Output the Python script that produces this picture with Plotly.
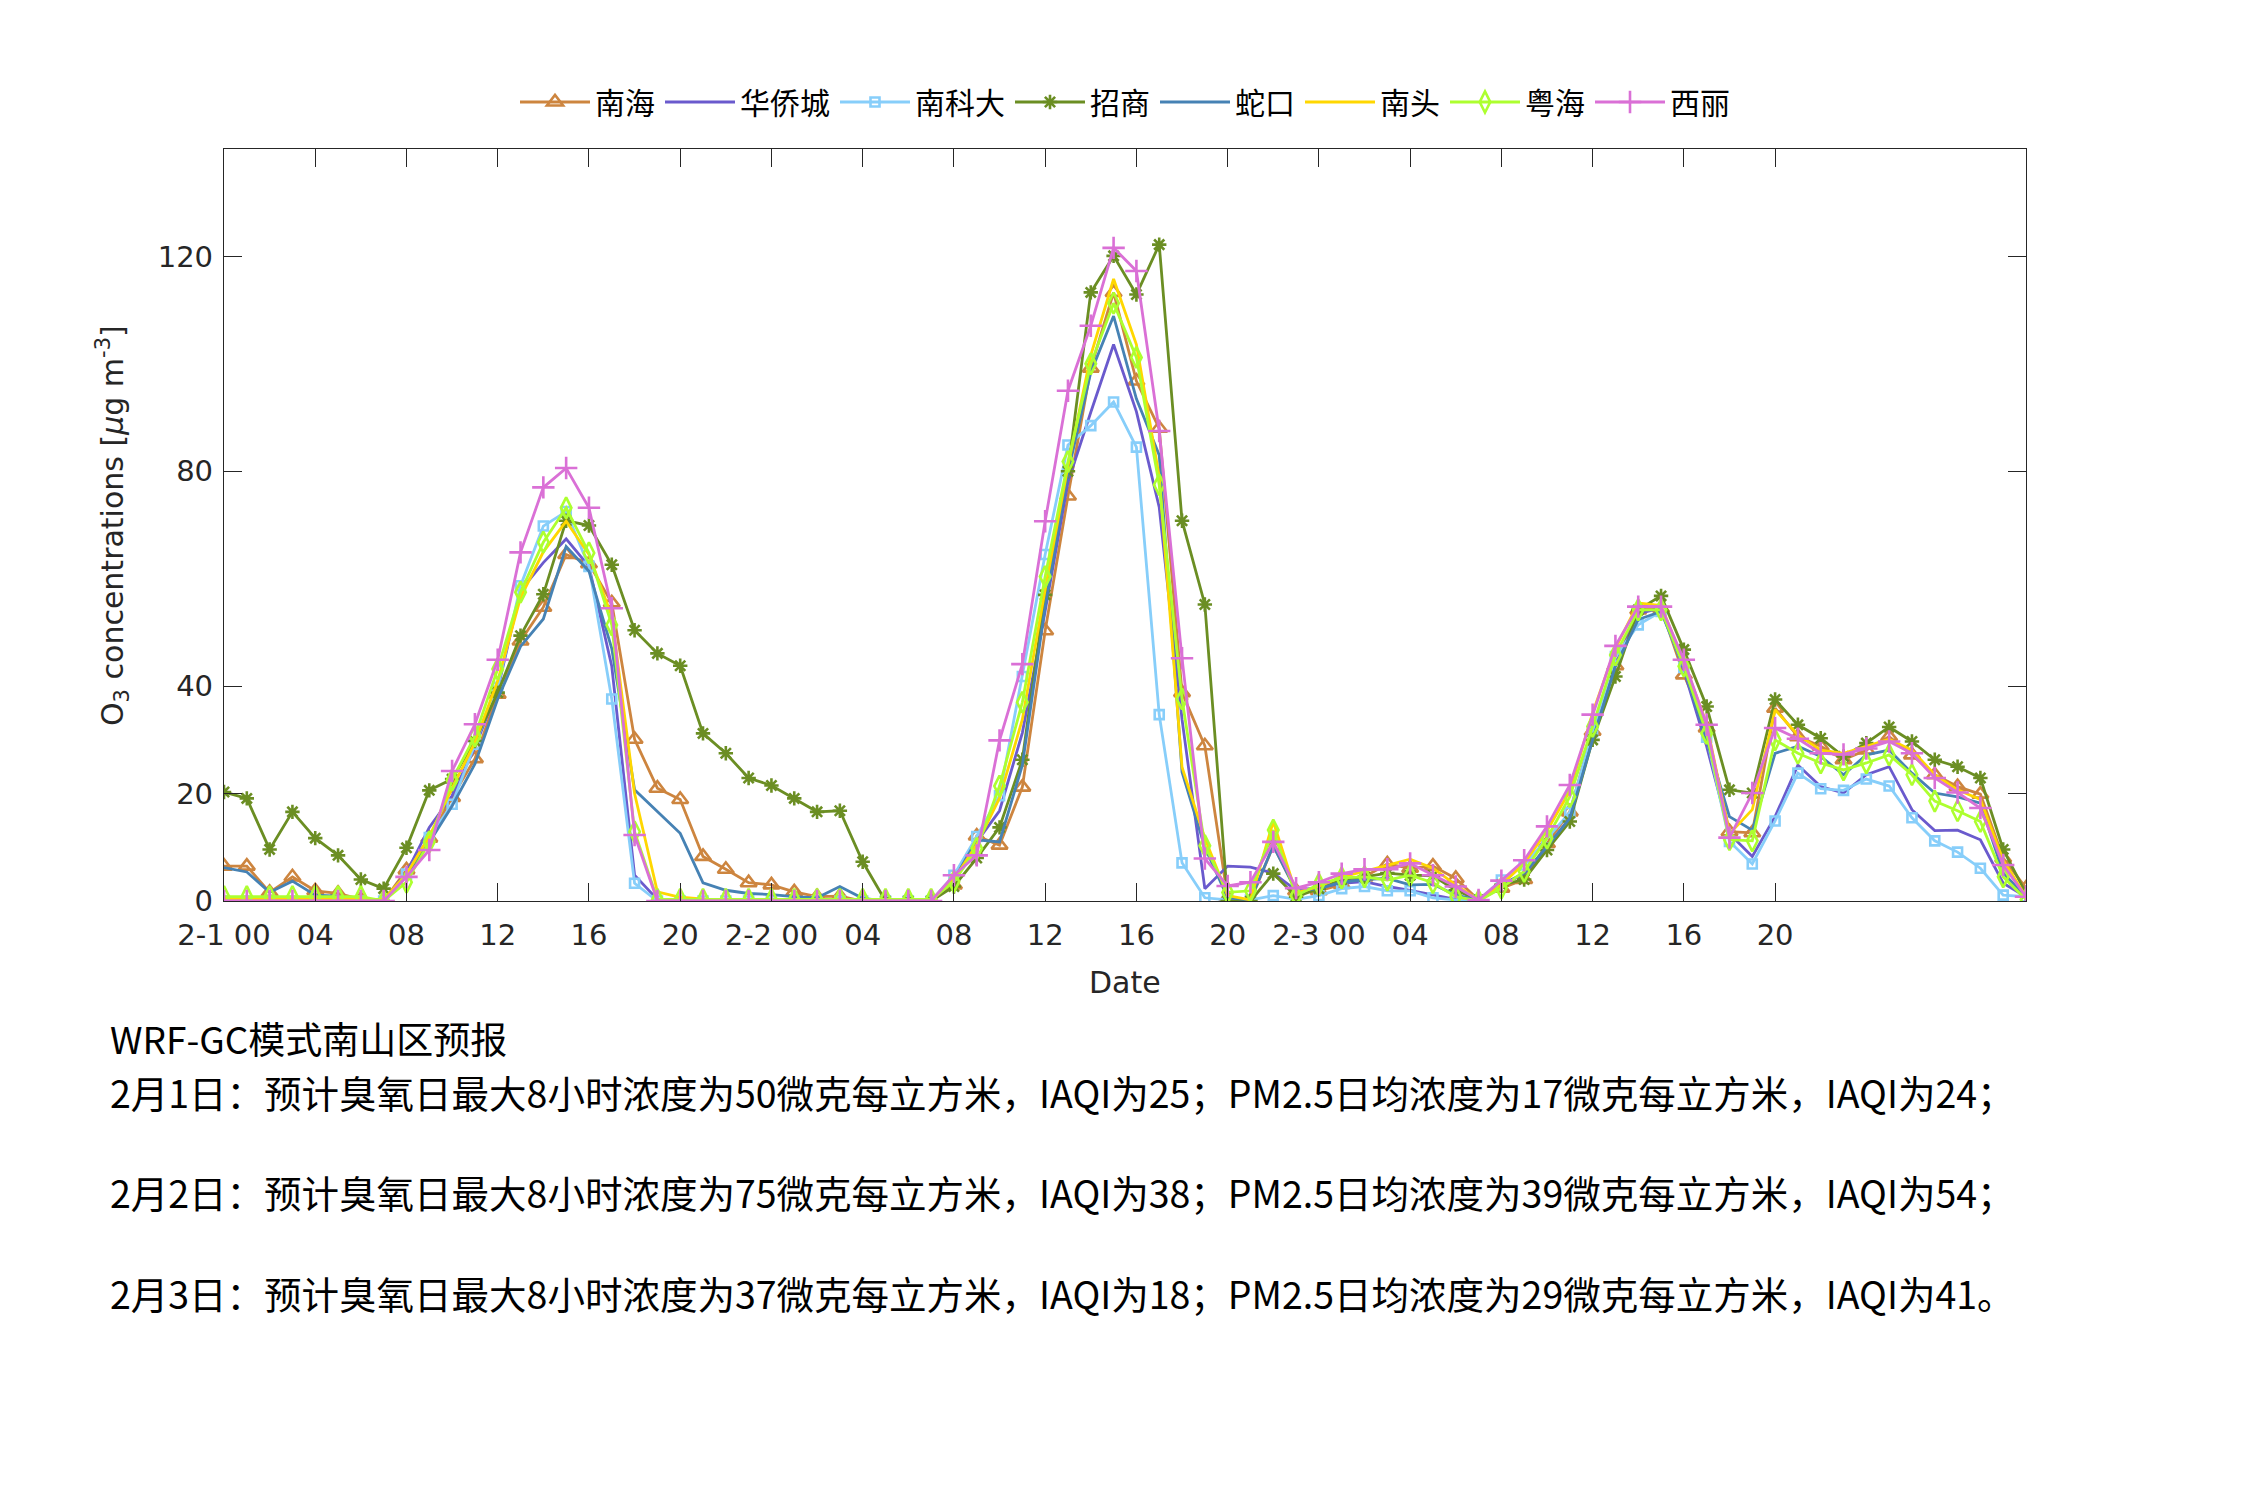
import plotly.graph_objects as go

# hourly index from 2-1 00 to 2-4 07
hours = list(range(80))

tick_hours = [0, 4, 8, 12, 16, 20, 24, 28, 32, 36, 40, 44, 48, 52, 56, 60, 64, 68]
tick_labels = ["2-1 00", "04", "08", "12", "16", "20",
               "2-2 00", "04", "08", "12", "16", "20",
               "2-3 00", "04", "08", "12", "16", "20"]

nanhai = [6.5, 6.5, 1.6, 4.5, 1.9, 1.4, 0.3, 0, 5.8, 11.7,
          19.3, 26.5, 38.5, 48.4, 54.7, 64.5, 62.8, 55.5, 30.1, 21.0,
          18.9, 8.3, 5.9, 3.4, 3.0, 1.7, 0.8, 0.9, 0, 0,
          0, 0, 3.0, 12.1, 10.4, 21.2, 50.3, 75.4, 99.2, 113.3,
          96.8, 88.0, 38.8, 28.9, 0.6, 0, 10.3, 1.9, 1.9, 3.1,
          4.5, 6.9, 6.1, 6.5, 4.2, 0.2, 2.4, 4.0, 10.7, 16.6,
          31.6, 43.8, 54.2, 54.5, 42.1, 32.2, 12.9, 12.7, 35.9, 30.6,
          28.8, 26.3, 28.1, 30.6, 27.2, 23.5, 21.3, 19.9, 8.0, 2.4]

huaqiaocheng = [0.5, 0.5, 0.6, 0.3, 0, 0, 0, 0, 5.3, 13.7,
                19.6, 28.6, 39.4, 57.8, 63.0, 67.4, 62.3, 43.7, 4.8, 0.3,
                0, 0, 0, 0, 0, 0, 0, 0, 0, 0,
                0, 0, 4.5, 11.0, 16.8, 31.3, 54.0, 78.0, 91.0, 103.6,
                91.1, 73.3, 33.8, 2.3, 6.5, 6.3, 5.2, 2.0, 2.5, 3.3,
                3.6, 2.7, 2.0, 1.1, 0.3, 0.2, 3.0, 5.0, 10.0, 15.5,
                31.0, 44.0, 53.5, 54.5, 43.0, 28.8, 12.5, 8.3, 15.7, 25.3,
                21.3, 20.1, 23.5, 25.0, 17.0, 13.1, 13.2, 11.4, 3.3, 0.8]

nankeda = [0, 0, 0, 0, 0, 0, 0, 0, 5.0, 11.8,
           18.0, 29.2, 39.8, 58.7, 69.8, 72.5, 62.3, 37.6, 3.3, 0,
           0, 0, 0, 0, 0, 0, 0, 0, 0, 0,
           0, 0, 4.8, 12.0, 19.6, 41.8, 64.5, 84.9, 88.5, 92.9,
           84.5, 34.7, 7.1, 0.6, 0.2, 0.2, 1.0, 0.3, 1.0, 2.3,
           2.7, 1.9, 1.9, 0.6, 0.2, 0.2, 3.9, 6.7, 11.5, 16.5,
           31.5, 45.5, 51.4, 53.9, 43.5, 30.5, 11.1, 6.9, 14.9, 23.8,
           20.9, 20.6, 22.7, 21.4, 15.5, 11.2, 9.1, 6.1, 1.1, 0.8]

zhaoshang = [20.3, 19.1, 9.6, 16.6, 11.7, 8.5, 4.0, 2.3, 9.9, 20.6,
             22.7, 29.8, 38.8, 49.4, 57.1, 70.8, 69.9, 62.6, 50.4, 46.1,
             43.8, 31.2, 27.5, 22.9, 21.5, 19.1, 16.6, 16.8, 7.3, 0,
             0, 0, 2.7, 8.0, 13.7, 26.3, 57.0, 80.0, 113.3, 120.1,
             112.9, 122.2, 70.8, 55.2, 0, 0, 5.1, 0.8, 2.3, 4.0,
             4.5, 5.2, 4.8, 4.7, 2.0, 0.2, 3.0, 4.0, 9.5, 14.8,
             30.0, 41.8, 54.2, 56.8, 46.8, 36.2, 20.7, 20.1, 37.5, 32.8,
             30.3, 26.9, 29.4, 32.4, 29.7, 26.3, 25.0, 22.9, 9.6, 1.4]

shekou = [6.2, 5.4, 1.6, 3.7, 1.1, 0.9, 0.2, 0, 4.7, 10.9,
          17.7, 25.5, 37.6, 47.4, 52.5, 66.0, 61.4, 47.0, 20.7, 16.6,
          12.6, 3.4, 2.0, 1.4, 1.2, 0.8, 0.6, 2.7, 0.5, 0,
          0, 0, 3.9, 11.4, 11.0, 25.3, 54.8, 79.8, 98.4, 108.9,
          93.5, 83.0, 24.0, 10.0, 0.6, 0.2, 10.3, 1.9, 2.3, 3.5,
          4.0, 4.2, 3.0, 3.1, 1.1, 0.2, 3.0, 5.2, 10.1, 15.4,
          30.0, 43.7, 52.4, 53.9, 43.5, 30.0, 15.7, 13.2, 27.5, 28.8,
          26.9, 23.5, 27.2, 28.1, 23.8, 20.1, 19.4, 18.2, 5.2, 0.8]

nantou = [0.3, 0.3, 0.3, 0.3, 0.3, 0.3, 0.3, 0.3, 5.0, 12.0,
          21.0, 29.5, 41.0, 56.5, 65.0, 70.7, 64.5, 53.0, 20.0, 1.7,
          0.7, 0.3, 0, 0, 0, 0, 0, 0, 0, 0,
          0, 0, 4.0, 10.5, 19.2, 33.8, 58.0, 81.0, 101.6, 115.8,
          103.6, 79.0, 24.9, 11.7, 1.0, 0.2, 14.8, 1.5, 2.7, 4.5,
          5.5, 6.7, 7.8, 6.1, 3.0, 0.2, 3.0, 7.0, 13.1, 20.5,
          35.0, 47.0, 55.5, 55.0, 44.5, 33.0, 12.5, 17.0, 35.6, 30.9,
          28.1, 27.5, 28.8, 30.1, 28.1, 23.5, 20.7, 18.9, 7.6, 0.8]

yuehai = [0.8, 0.8, 0.8, 0.8, 0.8, 0.8, 0.8, 0, 3.5, 11.0,
          22.5, 30.7, 43.2, 57.5, 66.8, 73.2, 64.8, 51.4, 12.9, 0.3,
          0.3, 0.3, 0.3, 0.3, 0.3, 0.3, 0.3, 0.3, 0.3, 0.3,
          0.3, 0.3, 3.6, 9.8, 21.4, 37.0, 60.4, 81.8, 100.0, 111.3,
          101.2, 77.5, 37.6, 10.3, 1.6, 1.9, 13.2, 1.0, 3.1, 4.3,
          4.5, 3.9, 4.8, 3.4, 0.8, 0.0, 2.4, 5.5, 11.7, 19.4,
          32.5, 45.8, 54.2, 54.2, 43.7, 31.2, 11.4, 11.2, 30.0, 27.5,
          25.7, 24.4, 25.7, 27.2, 23.5, 18.6, 16.8, 14.8, 4.5, 0.3]

xili = [0, 0, 0, 0, 0, 0, 0, 0, 4.5, 9.5,
        24.2, 32.9, 44.9, 64.9, 77.0, 80.6, 73.2, 54.5, 12.3, 0,
        0, 0, 0, 0, 0, 0, 0, 0, 0, 0,
        0, 0, 4.8, 8.5, 29.9, 44.1, 70.7, 95.0, 107.1, 121.6,
        117.3, 87.5, 45.2, 7.9, 2.8, 3.5, 11.0, 2.4, 3.5, 5.1,
        5.9, 5.9, 7.0, 4.8, 2.7, 0.2, 3.8, 7.6, 13.9, 21.6,
        34.7, 47.5, 54.8, 54.8, 44.9, 32.8, 11.8, 20.1, 32.2, 30.2,
        27.5, 27.3, 28.4, 29.7, 27.5, 22.9, 20.2, 17.3, 6.7, 0.8]

series_names = ["南海", "华侨城", "南科大", "招商", "蛇口", "南头", "粤海", "西丽"]

forecast_title = "WRF-GC模式南山区预报"
forecast_lines = [
    "2月1日：预计臭氧日最大8小时浓度为50微克每立方米，IAQI为25；PM2.5日均浓度为17微克每立方米，IAQI为24；",
    "2月2日：预计臭氧日最大8小时浓度为75微克每立方米，IAQI为38；PM2.5日均浓度为39微克每立方米，IAQI为54；",
    "2月3日：预计臭氧日最大8小时浓度为37微克每立方米，IAQI为18；PM2.5日均浓度为29微克每立方米，IAQI为41。",
]

data = [nanhai, huaqiaocheng, nankeda, zhaoshang, shekou, nantou, yuehai, xili]
colors = ["#CD853F", "#6A5ACD", "#87CEFA", "#6B8E23", "#4682B4", "#FFD700", "#ADFF2F", "#DA70D6"]
symbols = ["triangle-up-open", None, "square-open", "asterisk-open", None, None, "diamond-tall-open", "cross-thin-open"]
msizes = [14, 0, 9, 12, 0, 0, 15, 16]

W, H = 2250, 1500
L, R, T, B = 224, 2026, 149, 901

fig = go.Figure()
for name, vals, c, s, ms in zip(series_names, data, colors, symbols, msizes):
    if s is None:
        fig.add_trace(go.Scatter(x=hours, y=vals, name=name, mode="lines",
                                 line=dict(color=c, width=2.8)))
    else:
        fig.add_trace(go.Scatter(x=hours, y=vals, name=name, mode="lines+markers",
                                 line=dict(color=c, width=2.8),
                                 marker=dict(symbol=s, size=ms, color=c,
                                             line=dict(color=c, width=2.6))))

axis_font = dict(family="DejaVu Sans", size=29, color="#262626")
fig.update_xaxes(range=[0, 79], tickmode="array", tickvals=tick_hours, ticktext=tick_labels,
                 ticks="inside", ticklen=18, tickwidth=1.3, tickcolor="#262626",
                 showline=True, linecolor="#262626", linewidth=1.3, mirror="ticks",
                 showgrid=False, zeroline=False, tickfont=axis_font, ticklabelstandoff=8)
fig.update_yaxes(range=[0, 140], tickmode="array", tickvals=[0, 20, 40, 80, 120],
                 ticks="inside", ticklen=18, tickwidth=1.3, tickcolor="#262626",
                 showline=True, linecolor="#262626", linewidth=1.3, mirror="ticks",
                 showgrid=False, zeroline=False, tickfont=axis_font, ticklabelstandoff=4)

pw, ph = R - L, B - T

def px(xp):
    return (xp - L) / pw

def py(yp):
    return (B - yp) / ph

annotations = [
    dict(text="Date", x=px(1125), y=py(982), xref="paper", yref="paper",
         showarrow=False, font=dict(family="DejaVu Sans", size=30, color="#262626"),
         xanchor="center", yanchor="middle"),
    dict(text="O<sub>3</sub> concentrations [<i>μ</i>g m<sup>-3</sup>]", x=px(112), y=py(526),
         xref="paper", yref="paper", textangle=-90, showarrow=False,
         font=dict(family="DejaVu Sans", size=30, color="#262626"),
         xanchor="center", yanchor="middle"),
    dict(text=forecast_title, x=px(108), y=py(1038), xref="paper", yref="paper",
         showarrow=False, font=dict(family="Noto Sans CJK SC", size=37, color="black"),
         xanchor="left", yanchor="middle"),
]
for i, line in enumerate(forecast_lines):
    annotations.append(dict(text=line, x=px(108), y=py(1091 + 100.5 * i), xref="paper", yref="paper",
                            showarrow=False,
                            font=dict(family="Noto Sans CJK SC", size=37.5, color="black"),
                            xanchor="left", yanchor="middle"))

fig.update_layout(
    width=W, height=H,
    margin=dict(l=L, r=W - R, t=T, b=H - B),
    paper_bgcolor="white", plot_bgcolor="white",
    showlegend=True,
    legend=dict(orientation="h", x=0.5, xanchor="center", y=py(102), yanchor="middle",
                font=dict(family="Noto Sans CJK SC", size=30, color="black"),
                itemwidth=70, bgcolor="rgba(0,0,0,0)", tracegroupgap=0),
    annotations=annotations,
)

fig.write_html("out.html")
